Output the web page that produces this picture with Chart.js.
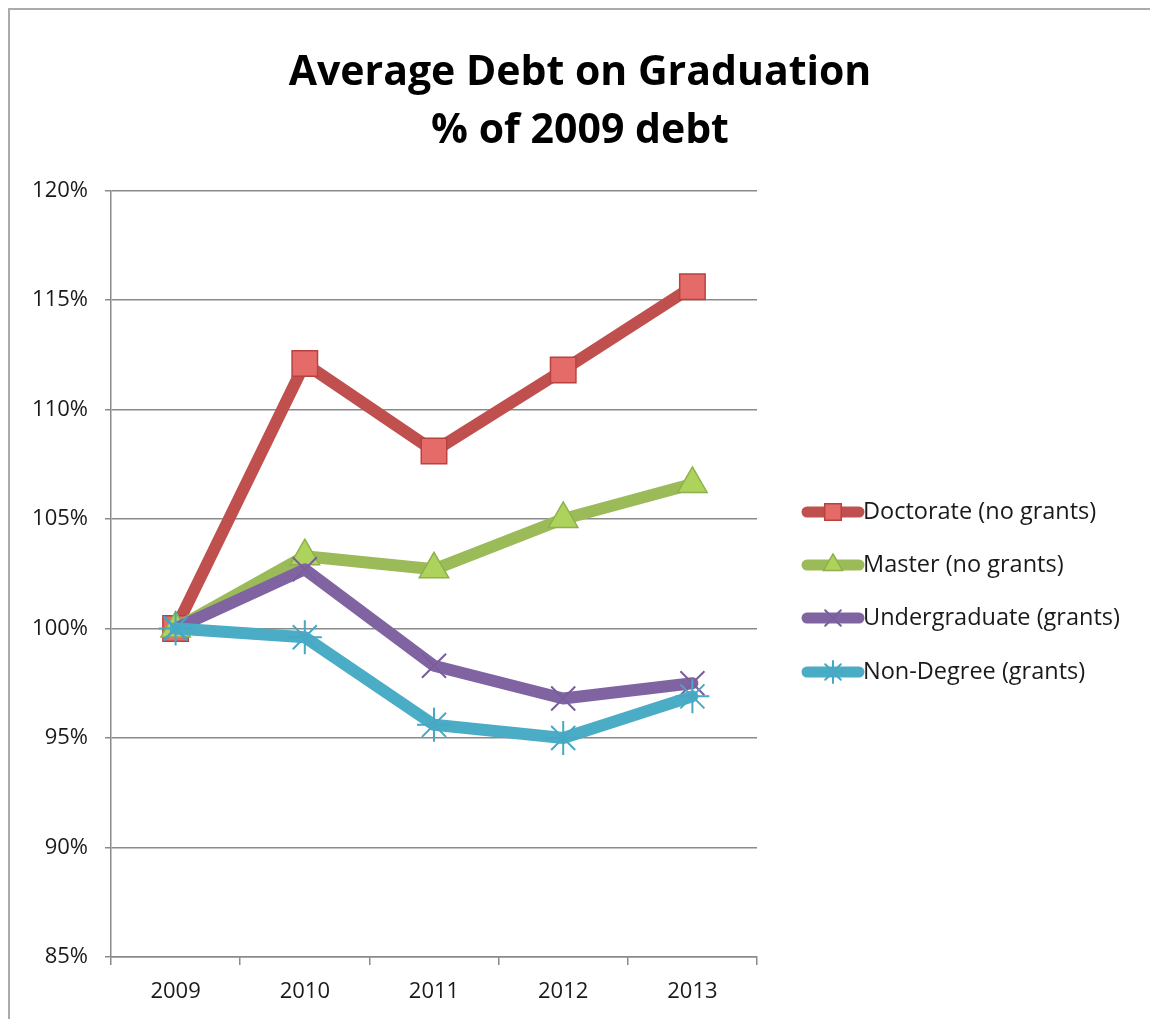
<!DOCTYPE html>
<html>
<head>
<meta charset="utf-8">
<script src="https://cdn.jsdelivr.net/npm/chart.js@4/dist/chart.umd.min.js"></script>
<style>
  html, body { margin: 0; padding: 0; background: #fff; }
  #wrap { width: 1150px; height: 1019px; }
</style>
</head>
<body>
<div id="wrap"><canvas id="c" width="1150" height="1019"></canvas></div>
<script>
const titleLines = ["Average Debt on Graduation", "% of 2009 debt"];
const years = ["2009", "2010", "2011", "2012", "2013"];
const seriesNames = ["Doctorate (no grants)", "Master (no grants)", "Undergraduate (grants)", "Non-Degree (grants)"];
const doctorate = [100, 112.1, 108.1, 111.8, 115.6];
const master = [100, 103.3, 102.7, 105.0, 106.6];
const undergraduate = [100, 102.7, 98.3, 96.8, 97.5];
const nonDegree = [100, 99.6, 95.6, 95.0, 96.9];
const yMin = 85, yMax = 120, yStep = 5;

const FONT = "'Open Sans', 'DejaVu Sans', sans-serif";

const styles = [
  { line: '#C0504D', fill: '#E56B69', border: '#B8423F', point: 'rect', r: 18, bw: 1.5, order: 4 },
  { line: '#9BBB59', fill: '#AED35C', border: '#8DB04A', point: 'triangle', r: 17, bw: 1.5, order: 3 },
  { line: '#8064A2', fill: '#8064A2', border: '#7A5E9C', point: 'crossRot', r: 17, bw: 2, order: 2 },
  { line: '#4BACC6', fill: '#4BACC6', border: '#46A8C4', point: 'star', r: 17, bw: 2, order: 1 }
];
const seriesData = [doctorate, master, undergraduate, nonDegree];

const datasets = seriesData.map((d, i) => ({
  label: seriesNames[i],
  data: d,
  borderColor: styles[i].line,
  backgroundColor: styles[i].fill,
  borderWidth: 12,
  pointStyle: styles[i].point,
  pointRadius: styles[i].r,
  pointHoverRadius: styles[i].r,
  pointBackgroundColor: styles[i].fill,
  pointBorderColor: styles[i].border,
  pointBorderWidth: styles[i].bw,
  tension: 0,
  fill: false,
  order: styles[i].order,
  borderJoinStyle: 'round',
  borderCapStyle: 'round'
}));

const framePlugin = {
  id: 'frame',
  beforeDraw(chart) {
    const ctx = chart.ctx;
    ctx.save();
    ctx.fillStyle = '#fff';
    ctx.fillRect(0, 0, chart.width, chart.height);
    ctx.strokeStyle = '#ababab';
    ctx.lineWidth = 2;
    ctx.beginPath();
    ctx.moveTo(9, chart.height);
    ctx.lineTo(9, 9);
    ctx.lineTo(chart.width, 9);
    ctx.stroke();
    ctx.restore();
  }
};

const legendPlugin = {
  id: 'sideLegend',
  afterDraw(chart) {
    const ctx = chart.ctx;
    const rows = [512, 565, 618, 672];
    ctx.save();
    chart.data.datasets.forEach((ds, i) => {
      const y = rows[i];
      ctx.strokeStyle = ds.borderColor;
      ctx.lineWidth = 11;
      ctx.lineCap = 'round';
      ctx.beginPath();
      ctx.moveTo(807, y);
      ctx.lineTo(859, y);
      ctx.stroke();
      ctx.fillStyle = ds.pointBackgroundColor;
      ctx.strokeStyle = ds.pointBorderColor;
      ctx.lineWidth = ds.pointBorderWidth;
      Chart.helpers.drawPoint(ctx, { pointStyle: ds.pointStyle, radius: ds.pointRadius * 0.65, borderWidth: ds.pointBorderWidth }, 833, y);
      ctx.fillStyle = '#1a1a1a';
      ctx.font = "23.5px " + FONT;
      ctx.textAlign = 'left';
      ctx.textBaseline = 'middle';
      ctx.fillText(ds.label, 863, y);
    });
    ctx.restore();
  }
};

new Chart(document.getElementById('c'), {
  type: 'line',
  data: { labels: years, datasets: datasets },
  plugins: [framePlugin, legendPlugin],
  options: {
    responsive: false,
    animation: false,
    events: [],
    layout: { padding: { left: 10, right: 0, top: 44, bottom: 0 } },
    plugins: {
      legend: { display: false },
      tooltip: { enabled: false },
      title: {
        display: true,
        text: titleLines,
        color: '#000',
        font: { family: FONT, size: 41, weight: 'bold', lineHeight: 1.42 },
        padding: { top: 0, bottom: 30 }
      }
    },
    scales: {
      x: {
        offset: true,
        grid: { display: true, drawOnChartArea: false, offset: true, color: '#8a8a8a', tickLength: 8, lineWidth: 1.5 },
        border: { display: true, color: '#8a8a8a', width: 1.5 },
        ticks: { color: '#1a1a1a', font: { family: FONT, size: 22 }, padding: 14 },
        afterFit(s) { s.height = 62; }
      },
      y: {
        min: yMin, max: yMax,
        grid: { color: '#8a8a8a', lineWidth: 1.5, tickLength: 6 },
        border: { display: true, color: '#8a8a8a', width: 1.5 },
        ticks: { stepSize: yStep, color: '#1a1a1a', font: { family: FONT, size: 22 }, padding: 17,
                 callback: v => v + '%' },
        afterFit(s) { s.width = 101; }
      },
      legendSpace: {
        type: 'linear',
        position: 'right',
        display: true,
        grid: { display: false },
        border: { display: false },
        ticks: { display: false },
        afterFit(s) { s.width = 393; }
      }
    }
  }
});
</script>
</body>
</html>
